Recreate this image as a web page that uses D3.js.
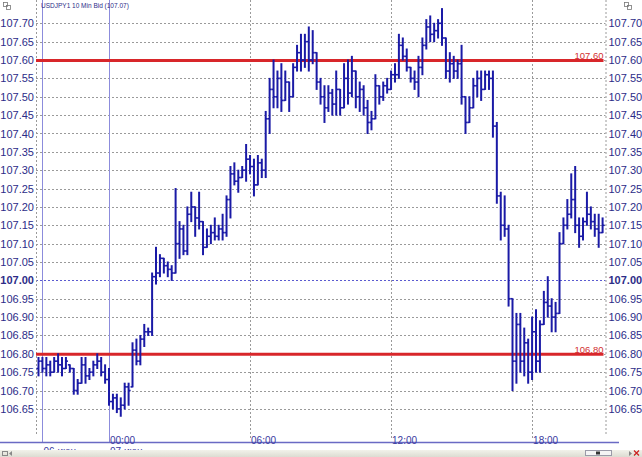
<!DOCTYPE html>
<html><head><meta charset="utf-8">
<script src="https://cdn.jsdelivr.net/npm/d3@7"></script>
<style>
html,body{margin:0;padding:0;background:#fff;}
svg{display:block;font-family:"Liberation Sans",Arial,sans-serif;}
</style></head>
<body><svg id="c" width="642" height="457"></svg>
<script>
// ---------- DATA ----------
const title = "USDJPY1 10 Min Bid (107.07)";
const startTime = "2016-06-06T21:00";   // first 10-minute bar
const barMinutes = 10;
const highs = [106.79,106.79,106.79,106.78,106.79,106.80,106.79,106.79,106.77,106.76,
 106.73,106.79,106.79,106.76,106.78,106.80,106.79,106.77,106.76,106.69,
 106.69,106.68,106.72,106.72,106.83,106.84,106.85,106.88,106.87,107.02,
 107.09,107.07,107.06,107.05,107.04,107.25,107.16,107.15,107.20,107.24,
 107.20,107.24,107.16,107.14,107.15,107.17,107.15,107.18,107.23,107.31,
 107.32,107.30,107.31,107.37,107.34,107.33,107.34,107.33,107.46,107.55,
 107.60,107.57,107.59,107.57,107.54,107.59,107.64,107.67,107.67,107.69,
 107.68,107.62,107.55,107.53,107.53,107.52,107.57,107.52,107.59,107.60,
 107.61,107.57,107.54,107.53,107.49,107.46,107.56,107.53,107.54,107.55,
 107.57,107.59,107.67,107.66,107.63,107.58,107.57,107.61,107.66,107.71,
 107.72,107.70,107.71,107.74,107.66,107.62,107.61,107.60,107.64,107.50,
 107.50,107.55,107.57,107.57,107.57,107.57,107.57,107.43,107.24,107.23,
 107.15,106.95,106.91,106.91,106.87,106.84,106.90,106.92,106.89,106.97,
 107.01,106.95,106.94,107.13,107.17,107.22,107.29,107.31,107.17,107.17,
 107.24,107.20,107.18,107.18,107.17];
const lows = [106.74,106.75,106.74,106.74,106.75,106.75,106.74,106.76,106.75,106.69,
 106.69,106.72,106.72,106.73,106.74,106.76,106.74,106.72,106.66,106.65,
 106.64,106.63,106.65,106.66,106.71,106.77,106.77,106.82,106.85,106.85,
 106.99,107.01,107.02,107.01,107.00,107.02,107.06,107.07,107.07,107.16,
 107.12,107.14,107.07,107.09,107.10,107.11,107.11,107.11,107.12,107.17,
 107.26,107.24,107.28,107.27,107.29,107.23,107.26,107.28,107.28,107.40,
 107.47,107.47,107.46,107.49,107.46,107.50,107.57,107.57,107.58,107.57,
 107.59,107.52,107.48,107.43,107.46,107.45,107.45,107.45,107.47,107.48,
 107.50,107.47,107.46,107.45,107.40,107.41,107.44,107.48,107.49,107.51,
 107.52,107.54,107.55,107.60,107.57,107.54,107.52,107.50,107.56,107.63,
 107.65,107.65,107.66,107.64,107.55,107.54,107.55,107.55,107.48,107.40,
 107.43,107.47,107.50,107.49,107.52,107.52,107.39,107.21,107.11,107.12,
 106.93,106.70,106.72,106.75,106.74,106.72,106.73,106.75,106.75,106.88,
 106.90,106.86,106.86,106.91,107.10,107.14,107.17,107.13,107.09,107.11,
 107.15,107.14,107.12,107.09,107.13];
const opens = [106.76,106.78,106.76,106.77,106.75,106.78,106.77,106.76,106.77,106.76,
 106.70,106.72,106.77,106.74,106.75,106.77,106.78,106.75,106.73,106.67,
 106.68,106.65,106.66,106.71,106.71,106.81,106.78,106.84,106.86,106.86,
 107.01,107.02,107.06,107.04,107.03,107.02,107.10,107.14,107.08,107.18,
 107.20,107.17,107.16,107.09,107.12,107.13,107.12,107.14,107.13,107.22,
 107.29,107.27,107.28,107.30,107.33,107.31,107.26,107.32,107.30,107.44,
 107.52,107.50,107.55,107.49,107.54,107.50,107.58,107.62,107.60,107.65,
 107.60,107.62,107.54,107.50,107.47,107.51,107.48,107.52,107.47,107.55,
 107.51,107.57,107.50,107.52,107.47,107.43,107.44,107.53,107.50,107.53,
 107.52,107.56,107.56,107.64,107.61,107.58,107.55,107.54,107.58,107.64,
 107.69,107.67,107.68,107.70,107.66,107.57,107.59,107.57,107.59,107.50,
 107.43,107.47,107.53,107.55,107.52,107.56,107.55,107.42,107.23,107.15,
 107.14,106.95,106.78,106.88,106.78,106.83,106.75,106.86,106.78,106.88,
 106.94,106.93,106.90,106.91,107.10,107.15,107.18,107.22,107.15,107.12,
 107.16,107.18,107.16,107.14,107.13];
const closes = [106.78,106.76,106.77,106.75,106.78,106.77,106.76,106.78,106.76,106.70,
 106.72,106.77,106.74,106.75,106.77,106.78,106.75,106.73,106.67,106.68,
 106.65,106.66,106.71,106.70,106.81,106.78,106.84,106.86,106.86,107.01,
 107.02,107.06,107.04,107.03,107.02,107.10,107.14,107.08,107.18,107.20,
 107.17,107.16,107.09,107.12,107.13,107.12,107.14,107.13,107.22,107.29,
 107.27,107.28,107.30,107.33,107.31,107.26,107.32,107.30,107.44,107.52,
 107.50,107.55,107.49,107.54,107.50,107.58,107.62,107.60,107.65,107.60,
 107.62,107.54,107.50,107.47,107.51,107.48,107.52,107.47,107.55,107.51,
 107.57,107.50,107.52,107.47,107.43,107.44,107.53,107.50,107.53,107.52,
 107.56,107.56,107.64,107.61,107.58,107.55,107.54,107.58,107.64,107.69,
 107.67,107.68,107.70,107.66,107.57,107.59,107.57,107.59,107.50,107.43,
 107.47,107.53,107.55,107.52,107.56,107.55,107.42,107.23,107.15,107.14,
 106.95,106.78,106.88,106.78,106.83,106.75,106.86,106.78,106.88,106.94,
 106.93,106.90,106.91,107.10,107.15,107.18,107.22,107.15,107.12,107.16,
 107.18,107.16,107.14,107.13,107.15];
const priceTicks = [106.65,106.70,106.75,106.80,106.85,106.90,106.95,107.00,107.05,107.10,
 107.15,107.20,107.25,107.30,107.35,107.40,107.45,107.50,107.55,107.60,107.65,107.70];
const boldTick = 107.00;
const levels = [107.60, 106.80];
const timeTicks = ["2016-06-07T06:00","2016-06-07T12:00","2016-06-07T18:00"];
const dayMarks = ["2016-06-07T00:00"];
const dayMarkLabel = "00:00";
const dayLabels = ["06 июн","07 июн"];

// ---------- SCALES ----------
const parse = d3.utcParse("%Y-%m-%dT%H:%M");
const t0 = parse(startTime);
const bars = highs.map((h,i)=>({
  t: d3.utcMinute.offset(t0, i*barMinutes), h, l: lows[i], o: opens[i], c: closes[i]}));
const x = d3.scaleUtc()
  .domain([t0, d3.utcMinute.offset(t0,(highs.length-1)*barMinutes)])
  .range([38.5, 602.6]);
const y = d3.scaleLinear().domain([106.65,107.70]).range([408.9,23.3]);
const fmt = d3.format(".2f");

const svg = d3.select("#c");
const L = 36, R = 605.5, gridBottom = 434, axisY = 442.5;
const navy = "#2c2c88", barCol = "#1a1aa6";

// horizontal gridlines
svg.append("g").selectAll("line").data(priceTicks).join("line")
  .attr("x1",L).attr("x2",R)
  .attr("y1",d=>Math.round(y(d))+0.5).attr("y2",d=>Math.round(y(d))+0.5)
  .attr("stroke",d=>d===boldTick?"#5a5ad0":"#9a9a9a")
  .attr("stroke-width",1).attr("stroke-dasharray","2,2");

// vertical dotted time gridlines
svg.append("g").selectAll("line").data(timeTicks).join("line")
  .attr("x1",d=>Math.round(x(parse(d)))+0.5).attr("x2",d=>Math.round(x(parse(d)))+0.5)
  .attr("y1",0).attr("y2",438)
  .attr("stroke","#9a9a9a").attr("stroke-dasharray","2,2");

// axis dotted borders
[L,R].forEach(v=>svg.append("line").attr("x1",v+0.5).attr("x2",v+0.5)
  .attr("y1",0).attr("y2",gridBottom).attr("stroke","#9a9a9a").attr("stroke-dasharray","2,2"));

// day separator solid lines
svg.append("line").attr("x1",42.5).attr("x2",42.5).attr("y1",0).attr("y2",axisY)
  .attr("stroke","#8c8cdc").attr("stroke-width",1);
svg.append("g").selectAll("line").data(dayMarks).join("line")
  .attr("x1",d=>Math.round(x(parse(d)))+0.5).attr("x2",d=>Math.round(x(parse(d)))+0.5)
  .attr("y1",0).attr("y2",axisY).attr("stroke","#8c8cdc").attr("stroke-width",1);

// red levels
svg.append("g").selectAll("line").data(levels).join("line")
  .attr("x1",L).attr("x2",R-2).attr("y1",d=>y(d)+0.5).attr("y2",d=>y(d)+0.5)
  .attr("stroke","#d8262a").attr("stroke-width",3);
svg.append("g").selectAll("text").data(levels).join("text")
  .attr("x",R-2).attr("y",d=>y(d)-1).attr("text-anchor","end")
  .attr("font-size",9.5).attr("fill","#d23030").text(fmt);

// OHLC bars
const g = svg.append("g").attr("stroke",barCol);
g.selectAll("line.hl").data(bars).join("line").attr("class","hl")
  .attr("x1",d=>x(d.t)).attr("x2",d=>x(d.t))
  .attr("y1",d=>y(d.h)-0.5).attr("y2",d=>y(d.l)+0.5).attr("stroke-width",2);
g.selectAll("line.o").data(bars).join("line").attr("class","o")
  .attr("x1",d=>x(d.t)-2).attr("x2",d=>x(d.t))
  .attr("y1",d=>y(d.o)).attr("y2",d=>y(d.o)).attr("stroke-width",1.6);
g.selectAll("line.c").data(bars).join("line").attr("class","c")
  .attr("x1",d=>x(d.t)).attr("x2",d=>x(d.t)+2)
  .attr("y1",d=>y(d.c)).attr("y2",d=>y(d.c)).attr("stroke-width",1.6);

// y axes
const yl = svg.append("g").attr("transform",`translate(${L-1},0)`)
  .call(d3.axisLeft(y).tickValues(priceTicks).tickSize(0).tickPadding(1).tickFormat(fmt));
const yr = svg.append("g").attr("transform",`translate(${R+1},0)`)
  .call(d3.axisRight(y).tickValues(priceTicks).tickSize(0).tickPadding(2).tickFormat(fmt));
[yl,yr].forEach(a=>{
  a.select(".domain").remove();
  a.selectAll("text").attr("font-size",11).attr("fill",navy)
   .attr("font-family","Liberation Sans, Arial, sans-serif")
   .attr("font-weight",d=>d===boldTick?"bold":"normal");
});

// bottom axis line
svg.append("line").attr("x1",0).attr("x2",619).attr("y1",axisY).attr("y2",axisY)
  .attr("stroke","#6a6ac4").attr("stroke-width",1.5);

// time labels
const tl = svg.append("g").attr("fill","#3a3aa0").attr("font-size",10);
tl.selectAll("text.t").data(timeTicks).join("text").attr("class","t")
  .attr("x",d=>x(parse(d))+1).attr("y",443.5).text(d=>d.slice(11));
tl.selectAll("text.d").data(dayMarks).join("text").attr("class","d")
  .attr("x",d=>x(parse(d))+1).attr("y",443.5).text(dayMarkLabel);

// day labels (lower half hidden behind the status bar, as in the source)
const dl = svg.append("g").attr("fill","#3a3aa0").attr("font-size",10);
dl.append("text").attr("x",43.5).attr("y",454.8).text(dayLabels[0]);
dl.selectAll("text.dd").data(dayMarks).join("text").attr("class","dd")
  .attr("x",d=>x(parse(d))+1).attr("y",454.8).text(dayLabels[1]);

// status bar
const grad = svg.append("defs").append("linearGradient").attr("id","sb")
  .attr("x1",0).attr("x2",0).attr("y1",0).attr("y2",1);
grad.append("stop").attr("offset",0).attr("stop-color","#f2f2ea");
grad.append("stop").attr("offset",1).attr("stop-color","#dcdcd2");
svg.append("rect").attr("x",0).attr("y",450).attr("width",642).attr("height",7).attr("fill","url(#sb)");

svg.append("rect").attr("x",2.5).attr("y",451.5).attr("width",5).attr("height",4).attr("fill","none").attr("stroke","#888");
svg.append("path").attr("d","M12,451 L9,453.5 L12,456 Z").attr("fill","#888");
svg.append("rect").attr("x",585.5).attr("y",450.5).attr("width",26).attr("height",5).attr("fill","#f4f4f4").attr("stroke","#9a9aa8");
svg.append("rect").attr("x",596).attr("y",451.5).attr("width",4).attr("height",3).attr("fill","#333");
svg.append("path").attr("d","M629,451 L632,453.5 L629,456 Z").attr("fill","#888");
svg.append("path").attr("d","M634,450.5 L639,455.5 M639,450.5 L634,455.5").attr("stroke","#cc2222").attr("stroke-width",1.3);

// title
svg.append("text").attr("x",41).attr("y",8).attr("font-size",6.5).attr("fill",navy).text(title);

// corner icons
function icon(x0){
  svg.append("rect").attr("x",x0).attr("y",2.5).attr("width",4).attr("height",4).attr("fill","none").attr("stroke","#777").attr("stroke-width",0.8);
  svg.append("rect").attr("x",x0+3).attr("y",5.5).attr("width",4).attr("height",4).attr("fill","none").attr("stroke","#777").attr("stroke-width",0.8);
}
icon(3.5); icon(624.5);
</script></body></html>
